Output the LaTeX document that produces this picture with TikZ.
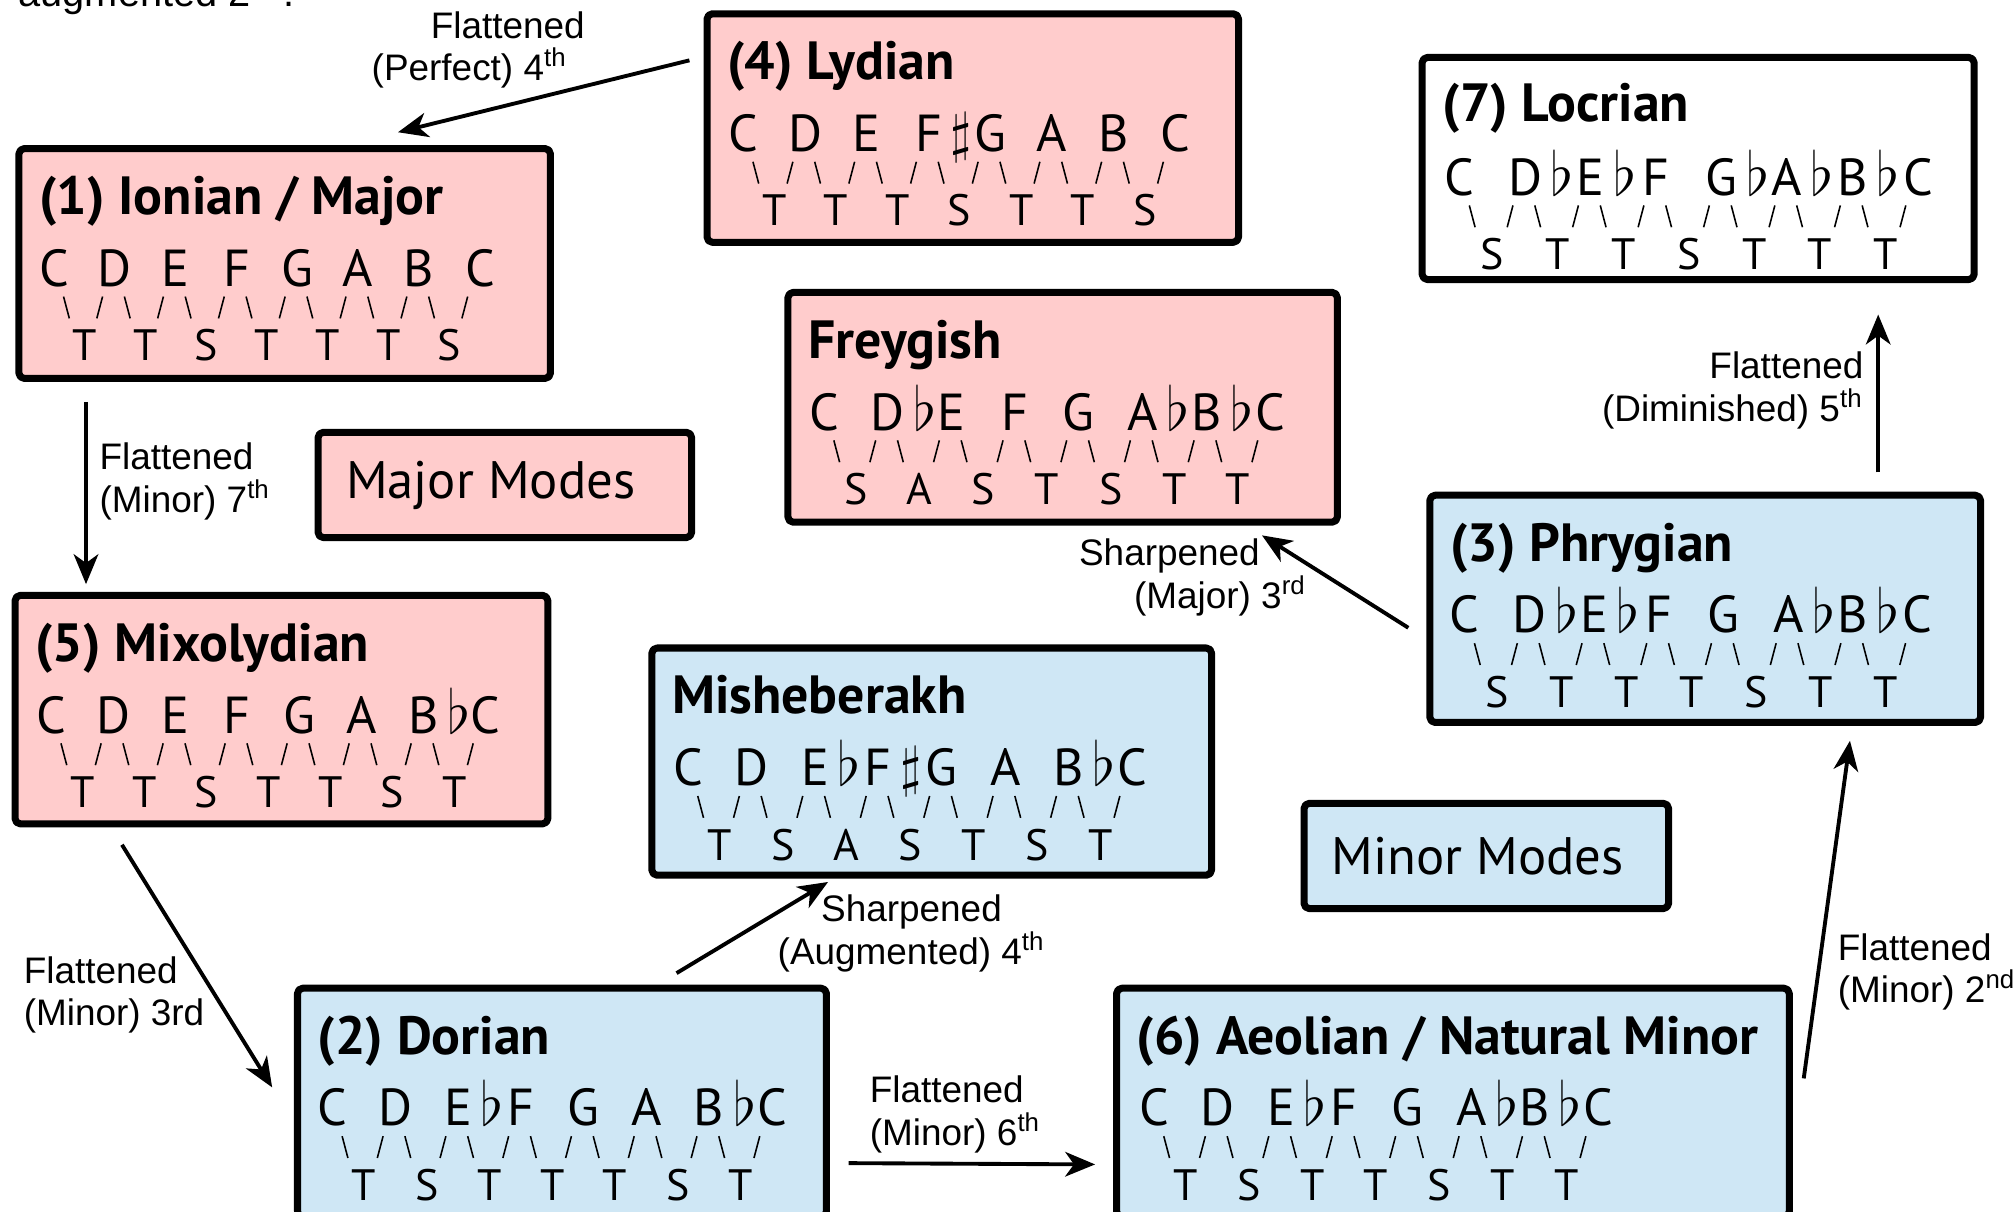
\documentclass[tikz,border=0pt]{standalone}
\usepackage{fontspec}
\setmainfont{PT Sans}
\newfontfamily\arialfont{Liberation Sans}
\usetikzlibrary{calc,arrows.meta}

\definecolor{majorpink}{RGB}{255,204,204}
\definecolor{minorblue}{RGB}{207,231,245}

\newcommand{\flt}{\rlap{\,\scalebox{1.2}{$\flat$}}}
\newcommand{\shp}{\rlap{\,\scalebox{1.1}{$\sharp$}}}

% box name, first note offset, note spacing, notes, steps
\newcommand{\scalerow}[5]{%
  \foreach \nt [count=\i] in {#4}
    \node[note] (#1-n\i) at ($(#1.north west)+({#2+(\i-1)*#3},110)$) {\nt};
  \foreach \st [count=\i] in {#5} {
    \pgfmathsetmacro{\xa}{#2+(\i-1)*#3}
    \pgfmathsetmacro{\xb}{#2+\i*#3}
    \draw[slash] ($(#1.north west)+(\xa+7.5,118)$) -- ++(4.5,17);
    \draw[slash] ($(#1.north west)+(\xb-9.5,118)$) -- ++(-4.5,17);
    \node[interval] (#1-s\i) at ($(#1.north west)+({(\xa+\xb)/2},168)$) {\st};
  }
}

\begin{document}
\begin{tikzpicture}[
    x = 0.01284cm, y = -0.01284cm,
    line join = round,
    modebox/.style = {draw, line width=2pt, rounded corners=1.5pt, anchor=north west, inner sep=0pt},
    boxsize/.style 2 args = {minimum width=#1*0.01284cm, minimum height=#2*0.01284cm},
    majorbox/.style = {modebox, fill=majorpink},
    minorbox/.style = {modebox, fill=minorblue},
    modetitle/.style = {anchor=base west, inner sep=0pt, font=\bfseries\fontsize{15.3}{18}\selectfont},
    note/.style = {anchor=base, inner sep=0pt, font=\fontsize{14.8}{17}\selectfont},
    interval/.style = {anchor=base, inner sep=0pt, font=\fontsize{12.5}{15}\selectfont},
    slash/.style = {line width=0.45pt},
    lbl/.style = {inner sep=0pt, font=\arialfont\fontsize{10.5}{12.1}\selectfont},
    arr/.style = {line width=1.1pt, -{Stealth[length=8.5pt, width=7pt, inset=2.5pt]}}
]

\useasboundingbox (0,0) rectangle (1568,944);

\node[lbl, anchor=base west, font=\arialfont\fontsize{11.3}{13}\selectfont] (topnote) at (14,5) {augmented 2\textsuperscript{nd}.};

\node[majorbox, boxsize={414}{179}] (ionian) at (12,113) {};
\node[modetitle] (ionian-t) at ($(ionian.north west)+(18,54)$) {(1) Ionian / Major};
\scalerow{ionian}{30}{47.4}{C,D,E,F,G,A,B,C}{T,T,S,T,T,T,S}

\node[majorbox, boxsize={414}{178}] (lydian) at (548,8) {};
\node[modetitle] (lydian-t) at ($(lydian.north west)+(18,54)$) {(4) Lydian};
\scalerow{lydian}{31}{48.1}{C,D,E,F\shp,G,A,B,C}{T,T,T,S,T,T,S}

\node[modebox, fill=white, boxsize={430}{173}] (locrian) at (1105,42) {};
\node[modetitle] (locrian-t) at ($(locrian.north west)+(18,53)$) {(7) Locrian};
\scalerow{locrian}{32}{51}{C,D\flt,E\flt,F,G\flt,A\flt,B\flt,C}{S,T,T,S,T,T,T}

\node[majorbox, boxsize={428}{179}] (freygish) at (611,225) {};
\node[modetitle] (freygish-t) at ($(freygish.north west)+(18,54)$) {Freygish};
\scalerow{freygish}{31}{49.6}{C,D\flt,E,F,G,A\flt,B\flt,C}{S,A,S,T,S,T,T}

\node[majorbox, boxsize={291}{82}, font=\fontsize{15}{18}\selectfont] (majormodes) at (245,334) {Major Modes\hspace*{0.28cm}};

\node[minorbox, boxsize={429}{177}] (phrygian) at (1111,383) {};
\node[modetitle] (phrygian-t) at ($(phrygian.north west)+(18,54)$) {(3) Phrygian};
\scalerow{phrygian}{30}{50.4}{C,D\flt,E\flt,F,G,A\flt,B\flt,C}{S,T,T,T,S,T,T}

\node[majorbox, boxsize={415}{178}] (mixolydian) at (9,461) {};
\node[modetitle] (mixolydian-t) at ($(mixolydian.north west)+(18,54)$) {(5) Mixolydian};
\scalerow{mixolydian}{31}{48.3}{C,D,E,F,G,A,B\flt,C}{T,T,S,T,T,S,T}

\node[minorbox, boxsize={436}{177}] (misheberakh) at (505,502) {};
\node[modetitle] (misheberakh-t) at ($(misheberakh.north west)+(18,54)$) {Misheberakh};
\scalerow{misheberakh}{31}{49.4}{C,D,E\flt,F\shp,G,A,B\flt,C}{T,S,A,S,T,S,T}

\node[minorbox, boxsize={284}{82}, font=\fontsize{15}{18}\selectfont] (minormodes) at (1013,623) {Minor Modes\hspace*{0.17cm}};

\node[minorbox, boxsize={412}{178}] (dorian) at (229,767) {};
\node[modetitle] (dorian-t) at ($(dorian.north west)+(18,54)$) {(2) Dorian};
\scalerow{dorian}{30}{48.9}{C,D,E\flt,F,G,A,B\flt,C}{T,S,T,T,T,S,T}

\node[minorbox, boxsize={524}{178}] (aeolian) at (867,767) {};
\node[modetitle] (aeolian-t) at ($(aeolian.north west)+(18,54)$) {(6) Aeolian / Natural Minor};
\scalerow{aeolian}{32}{49.4}{C,D,E\flt,F,G,A\flt,B\flt,C}{T,S,T,T,S,T,T}

\draw[arr] ($(lydian.north west)+(-11,39)$) -- ($(ionian.north west)+(298,-10)$);
\draw[arr] ($(ionian.north west)+(55,200)$) -- ($(mixolydian.north west)+(58,-6)$);
\draw[arr] ($(mixolydian.north west)+(86,197)$) -- ($(dorian.north west)+(-17,80)$);
\draw[arr] ($(dorian.north west)+(298,-9)$) -- ($(misheberakh.north west)+(140,185)$);
\draw[arr] ($(dorian.north west)+(432,139)$) -- ($(aeolian.north west)+(-14,140)$);
\draw[arr] ($(aeolian.north west)+(538,73)$) -- ($(phrygian.north west)+(330,194)$);
\draw[arr] ($(phrygian.north west)+(-14,106)$) -- ($(freygish.north west)+(372,192)$);
\draw[arr] ($(phrygian.north west)+(352,-15)$) -- ($(locrian.north west)+(358,203)$);

\node[lbl, anchor=base west, align=left] (l-perfect) at (289,63) {\hspace*{0.59cm}Flattened\\(Perfect) 4\textsuperscript{th}};
\node[lbl, anchor=base west, align=left] (l-seventh) at (77,399) {Flattened\\(Minor) 7\textsuperscript{th}};
\node[lbl, anchor=base west, align=left] (l-third) at (18,799) {Flattened\\(Minor) 3rd};
\node[lbl, anchor=base, align=center] (l-augmented) at (710,751) {Sharpened\\(Augmented) 4\textsuperscript{th}};
\node[lbl, anchor=base west, align=left] (l-sixth) at (677,892) {Flattened\\(Minor) 6\textsuperscript{th}};
\node[lbl, anchor=base west, align=left] (l-second) at (1431,781) {Flattened\\(Minor) 2\textsuperscript{nd}};
\node[lbl, anchor=base west, align=left] (l-major) at (840,474) {Sharpened\\\hspace*{0.55cm}(Major) 3\textsuperscript{rd}};
\node[lbl, anchor=base east, align=right] (l-diminished) at (1452,328) {Flattened\\(Diminished) 5\textsuperscript{th}};

\end{tikzpicture}
\end{document}
